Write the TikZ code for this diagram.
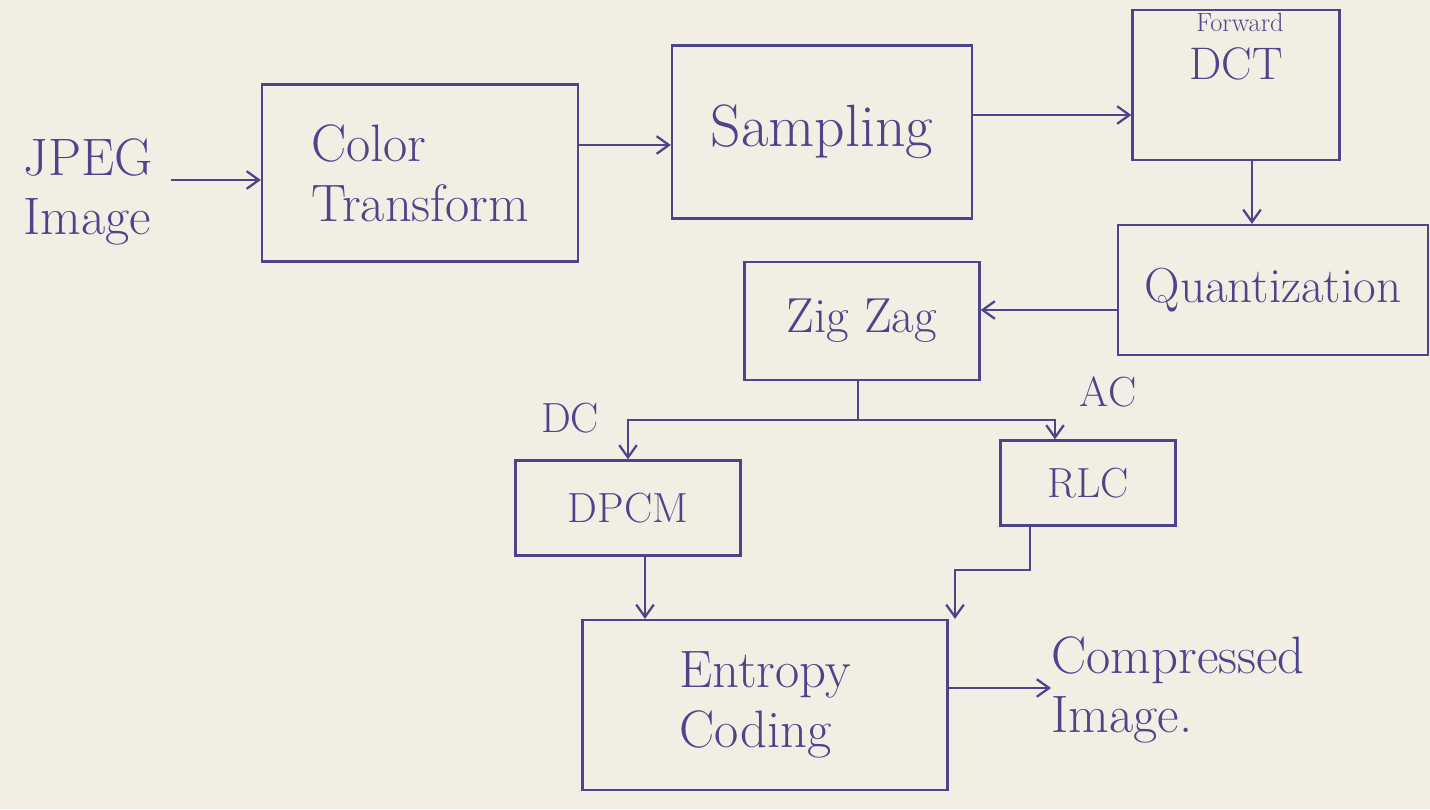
\documentclass[tikz,border=0pt]{standalone}
\usetikzlibrary{arrows.meta}
\definecolor{ink}{RGB}{78,68,140}
\definecolor{paper}{RGB}{243,238,228}
\tikzset{
  box/.style={draw=ink, line width=1.3pt, inner sep=0pt, text=ink},
  txt/.style={text=ink, inner sep=0pt},
  arr/.style={draw=ink, line width=1.3pt, -{Straight Barb[length=7pt,width=10pt]}},
  ln/.style={draw=ink, line width=1.3pt},
  big/.style={font=\fontsize{30}{34}\selectfont},
  mid/.style={font=\fontsize{24}{28}\selectfont}
}
\begin{document}
\begin{tikzpicture}[x=0.02cm,y=-0.02cm]
\fill[paper] (0,0) rectangle (1430,809);
\useasboundingbox (0,0) rectangle (1430,809);

% nodes
\node[txt, big, align=left] (jpeg) at (88,192) {JPEG\\Image};
\node[box, big, align=left, minimum width=6.32cm, minimum height=3.54cm] (color) at (420,173) {Color\\Transform};
\node[box, font=\fontsize{34}{38}\selectfont, minimum width=6cm, minimum height=3.46cm] (sampling) at (822,132) {Sampling};
\node[box, minimum width=4.14cm, minimum height=3cm] (dct) at (1236,85) {};
\node[txt, font=\fontsize{15}{15}\selectfont] (fwd) at (1240,22) {Forward};
\node[txt, font=\fontsize{26}{28}\selectfont] (dcttext) at (1236,64) {DCT};
\node[box, font=\fontsize{28}{32}\selectfont, minimum width=6.2cm, minimum height=2.6cm] (quant) at (1273,290) {Quantization};
\node[box, font=\fontsize{28}{32}\selectfont, minimum width=4.7cm, minimum height=2.36cm] (zigzag) at (862,321) {Zig Zag};
\node[box, mid, minimum width=4.5cm, minimum height=1.9cm] (dpcm) at (628,508) {DPCM};
\node[box, mid, minimum width=3.5cm, minimum height=1.7cm] (rlc) at (1088,483) {RLC};
\node[box, big, align=left, minimum width=7.3cm, minimum height=3.4cm] (entropy) at (765,705) {Entropy\\Coding};
\node[txt, big, align=left] (compressed) at (1178,690) {Compressed\\Image.};
\node[txt, mid] (dc) at (570,418) {DC};
\node[txt, mid] (ac) at (1108,392) {AC};

% connectors
\draw[arr, shorten <=10pt] (jpeg.east |- 0,180) -- (color.west |- 0,180);
\draw[arr] (color.east |- 0,145) -- (sampling.west |- 0,145);
\draw[arr] (sampling.east |- 0,115) -- (dct.west |- 0,115);
\draw[arr] (dct.south -| 1252,0) -- (quant.north -| 1252,0);
\draw[arr] (quant.west |- 0,310) -- (zigzag.east |- 0,310);

\coordinate (split) at (858,420);
\coordinate (dcturn) at (628,420);
\coordinate (acturn) at (1055,420);
\draw[ln] (zigzag.south -| split) -- (split);
\draw[arr] (split) -- (dcturn) -- (dpcm.north -| dcturn);
\draw[arr] (split) -- (acturn) -- (rlc.north -| acturn);

\draw[arr] (dpcm.south -| 645,0) -- (entropy.north -| 645,0);
\coordinate (rlcdown) at (1030,570);
\coordinate (rlcleft) at (955,570);
\draw[arr] (rlc.south -| rlcdown) -- (rlcdown) -- (rlcleft) -- (entropy.north -| rlcleft);
\draw[arr] (entropy.east |- 0,688) -- (compressed.west |- 0,688);
\end{tikzpicture}
\end{document}
